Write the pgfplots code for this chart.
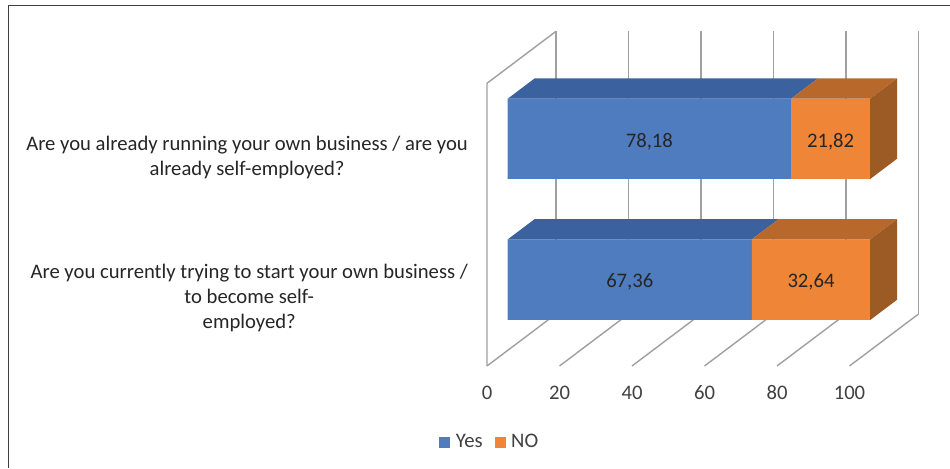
\documentclass[border=0pt]{standalone}
\usepackage{pgfplots}
\pgfplotsset{compat=1.18}
\usepackage{fontspec}
\setmainfont{Carlito}
\definecolor{yesfront}{HTML}{4F7BBF}
\definecolor{yestop}{HTML}{3B619E}
\definecolor{nofront}{HTML}{EF8537}
\definecolor{notop}{HTML}{B8682A}
\definecolor{noside}{HTML}{9C5A25}
\definecolor{wall}{HTML}{A0A0A0}
\definecolor{ticktext}{HTML}{404040}
\newcommand{\barfront}{0.30}
\newcommand{\barback}{0.69}
% Draws one stacked segment: front and top faces
\newcommand{\segment}[6]{%
  \addplot3[fill=#5,draw=none,forget plot] coordinates {(#1,\barfront,#3)(#2,\barfront,#3)(#2,\barfront,#4)(#1,\barfront,#4)(#1,\barfront,#3)};
  \addplot3[fill=#6,draw=none,forget plot] coordinates {(#1,\barfront,#4)(#2,\barfront,#4)(#2,\barback,#4)(#1,\barback,#4)(#1,\barfront,#4)};
}
\newcommand{\sidecap}[2]{%
  \addplot3[fill=noside,draw=none,forget plot] coordinates {(100,\barfront,#1)(100,\barback,#1)(100,\barback,#2)(100,\barfront,#2)(100,\barfront,#1)};
}
\begin{document}
\fontsize{15.5}{19}\selectfont
\begin{tikzpicture}
\path[use as bounding box] (0,0) rectangle (712.5pt,351pt);
\fill[white] (0,0) rectangle (712.5pt,351pt);
\draw[color=black!75,line width=0.8pt] (6.2pt,0) -- (6.2pt,347pt) -- (712.5pt,347pt);
\begin{axis}[
  at={(365.25pt,76.5pt)},anchor=origin,
  x={(2.71875pt,0pt)},
  y={(51.75pt,39pt)},
  z={(0pt,0.75pt)},
  xmin=0,xmax=100,ymin=0,ymax=1,zmin=0,zmax=282.7,
  clip=false,
  axis line style={draw=none},
  major tick length=0pt,
  /pgf/number format/assume math mode=true,
  xtick={0,20,40,60,80,100},
  ytick=\empty,
  ztick={68,208.5},
  zticklabels={{Are you currently trying to start your own business /\\to become self-\\employed?},{Are you already running your own business / are you\\already self-employed?}},
  z tick label style={anchor=east,align=center,text=black!85,xshift=-9pt},
  x tick label style={text=ticktext,anchor=center,text height=10pt,text depth=0pt,yshift=-20pt},
  xmajorgrids,
  grid style={color=wall,line width=1.05pt},
  legend columns=2,
  legend image code/.code={\fill[#1] (0pt,-4pt) rectangle (8.2pt,4pt);\path (10.4pt,0pt);},
  legend style={at={(axis description cs:0.5,-0.1)},anchor=north,xshift=-159.5pt,yshift=-21.75pt,draw=none,fill=none,font=\fontsize{15.5}{19}\selectfont,text=ticktext,/tikz/every even column/.append style={column sep=7pt}},
]
% Left wall outline
\addplot3[color=wall,line width=1.05pt,forget plot] coordinates {(0,0,0)(0,0,282.7)(0,1,282.7)};
% Lower bar
\segment{0}{67.36}{30.4}{111}{yesfront}{yestop}
\segment{67.36}{100}{30.4}{111}{nofront}{notop}
\sidecap{30.4}{111}
% Upper bar
\segment{0}{78.18}{171.4}{251.7}{yesfront}{yestop}
\segment{78.18}{100}{171.4}{251.7}{nofront}{notop}
\sidecap{171.4}{251.7}
% Value labels
\node[text=black!85] at (axis cs:39.09,\barfront,209) {78,18};
\node[text=black!85] at (axis cs:89.09,\barfront,209) {21,82};
\node[text=black!85] at (axis cs:33.68,\barfront,68.2) {67,36};
\node[text=black!85] at (axis cs:83.68,\barfront,68.2) {32,64};
\addlegendimage{fill=yesfront,draw=none}
\addlegendentry{Yes}
\addlegendimage{fill=nofront,draw=none}
\addlegendentry{NO}
\end{axis}
\end{tikzpicture}
\end{document}
